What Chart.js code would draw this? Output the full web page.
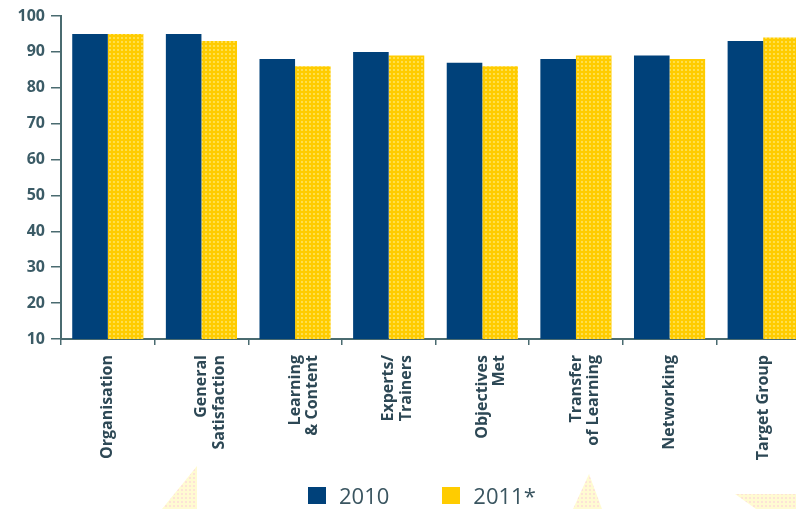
<!DOCTYPE html>
<html>
<head>
<meta charset="utf-8">
<script src="https://cdn.jsdelivr.net/npm/chart.js@4.4.1/dist/chart.umd.min.js"></script>
<style>
  html, body { margin: 0; padding: 0; background: #fff; overflow: hidden; }
  #wrap { position: relative; width: 796px; height: 509px; overflow: hidden; }
  #wrap canvas { position: absolute; left: 0; top: 0; }
  #legend { position: absolute; left: 308px; top: 480px; display: flex; align-items: center;
            font-family: 'Open Sans', sans-serif; font-size: 22px; color: #3a5560; }
  #legend .item { display: flex; align-items: center; margin-right: 53px; }
  #legend .box { width: 18px; height: 17px; margin-right: 13px; }
</style>
</head>
<body>
<div id="wrap">
  <canvas id="chart" width="810" height="509"></canvas>
  <div id="legend"></div>
</div>
<script>
const categories = [
  'Organisation',
  ['General', 'Satisfaction'],
  ['Learning', '& Content'],
  ['Experts/', 'Trainers'],
  ['Objectives', 'Met'],
  ['Transfer', 'of Learning'],
  'Networking',
  'Target Group'
];
const values2010 = [95, 95, 88, 90, 87, 88, 89, 93];
const values2011 = [95, 93, 86, 89, 86, 89, 88, 94];
const seriesLabels = ['2010', '2011*'];
const yTicks = [10, 20, 30, 40, 50, 60, 70, 80, 90, 100];

const NAVY = '#00417a';
const YELLOW = '#ffcc00';
const AXIS = '#4a6b70';

// small dotted fill for the yellow bars / page decoration
function dotPattern(bg, dot) {
  const c = document.createElement('canvas');
  c.width = 4; c.height = 4;
  const g = c.getContext('2d');
  g.fillStyle = bg;
  g.fillRect(0, 0, 4, 4);
  g.fillStyle = dot;
  g.fillRect(1, 1, 2, 2);
  return g.createPattern(c, 'repeat');
}

// faint dotted triangles along the bottom of the page
const decoration = {
  id: 'decoration',
  beforeDraw(chart) {
    const g = chart.ctx;
    g.save();
    g.fillStyle = dotPattern('#fffbd2', '#fde3d6');
    const shapes = [
      [[197, 466], [197, 509], [162, 509]],
      [[589, 474], [602, 509], [573, 509]],
      [[735, 494], [796, 494], [796, 509], [756, 509]]
    ];
    shapes.forEach(pts => {
      g.beginPath();
      pts.forEach((p, i) => i ? g.lineTo(p[0], p[1]) : g.moveTo(p[0], p[1]));
      g.closePath();
      g.fill();
    });
    g.restore();
  }
};

Chart.defaults.font.family = "'Open Sans', sans-serif";

const ctx = document.getElementById('chart').getContext('2d');
const chart = new Chart(ctx, {
  type: 'bar',
  data: {
    labels: categories,
    datasets: [
      { label: seriesLabels[0], data: values2010, backgroundColor: NAVY, legendColor: NAVY },
      { label: seriesLabels[1], data: values2011, backgroundColor: dotPattern(YELLOW, '#ffdf4d'), legendColor: YELLOW }
    ]
  },
  options: {
    responsive: false,
    animation: false,
    layout: { padding: { left: 0, top: 16, right: 0, bottom: 0 } },
    datasets: {
      bar: { barPercentage: 1, categoryPercentage: 0.76 }
    },
    plugins: {
      legend: { display: false },
      tooltip: { enabled: false }
    },
    scales: {
      x: {
        grid: { drawOnChartArea: false, drawTicks: true, tickLength: 6, color: AXIS, lineWidth: 1.5 },
        border: { display: true, color: AXIS, width: 2 },
        ticks: {
          minRotation: 90, maxRotation: 90, padding: 10,
          color: '#2d4855',
          font: { size: 16, weight: 'bold', lineHeight: 1.1 }
        },
        afterFit: s => { s.height = 170; }
      },
      y: {
        min: yTicks[0],
        max: yTicks[yTicks.length - 1],
        afterBuildTicks: s => { s.ticks = yTicks.map(v => ({ value: v })); },
        grid: { drawOnChartArea: false, drawTicks: true, tickLength: 10, color: AXIS, lineWidth: 1.5 },
        border: { display: true, color: AXIS, width: 2 },
        ticks: {
          padding: 6,
          color: '#3b5b66',
          font: { size: 16, weight: 'bold' }
        },
        afterFit: s => { s.width = 61; }
      }
    }
  },
  plugins: [decoration]
});

// legend built from the datasets
const legend = document.getElementById('legend');
chart.data.datasets.forEach(ds => {
  const item = document.createElement('div');
  item.className = 'item';
  const box = document.createElement('span');
  box.className = 'box';
  box.style.background = ds.legendColor;
  const txt = document.createElement('span');
  txt.textContent = ds.label;
  item.appendChild(box);
  item.appendChild(txt);
  legend.appendChild(item);
});
</script>
</body>
</html>
